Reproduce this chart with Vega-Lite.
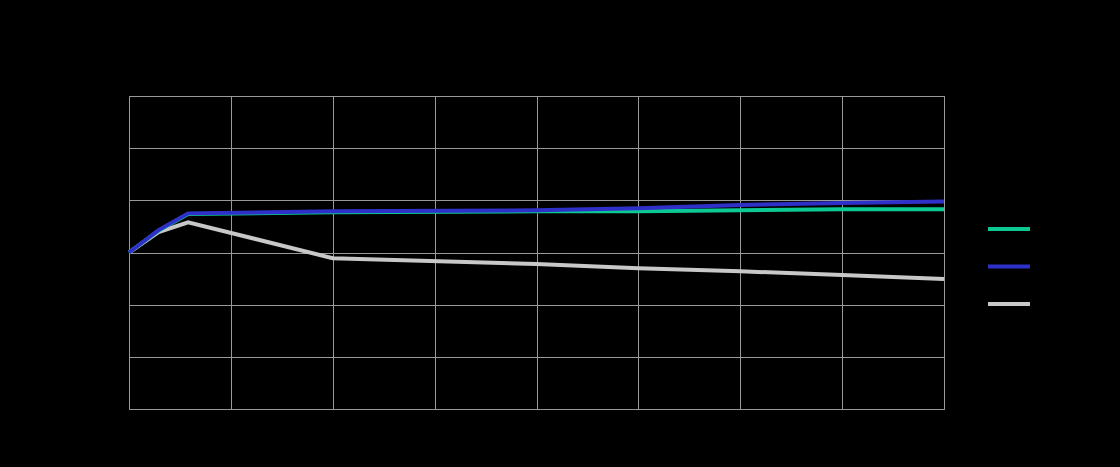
{
  "$schema": "https://vega.github.io/schema/vega-lite/v6.json",
  "width": 815,
  "height": 313,
  "autosize": {"type": "none"},
  "padding": {"left": 129, "top": 96, "right": 176, "bottom": 58},
  "background": "#000000",
  "config": {
    "view": {"stroke": "#999999", "strokeWidth": 1},
    "axis": {"gridColor": "#999999", "gridWidth": 1, "domain": false, "ticks": false, "labels": false, "title": null, "gridOpacity": 1}
  },
  "data": {
    "values": [
      {"x": 0, "y": 100, "s": "c"},
      {"x": 0.29, "y": 103.9, "s": "c"},
      {"x": 0.58, "y": 105.8, "s": "c"},
      {"x": 2, "y": 98.9, "s": "c"},
      {"x": 4, "y": 97.8, "s": "c"},
      {"x": 5, "y": 97.0, "s": "c"},
      {"x": 6, "y": 96.4, "s": "c"},
      {"x": 7, "y": 95.7, "s": "c"},
      {"x": 8, "y": 94.9, "s": "c"},
      {"x": 0, "y": 100, "s": "a"},
      {"x": 0.29, "y": 104.2, "s": "a"},
      {"x": 0.58, "y": 107.4, "s": "a"},
      {"x": 2, "y": 107.7, "s": "a"},
      {"x": 4, "y": 107.9, "s": "a"},
      {"x": 5, "y": 107.9, "s": "a"},
      {"x": 6, "y": 108.1, "s": "a"},
      {"x": 7, "y": 108.3, "s": "a"},
      {"x": 8, "y": 108.3, "s": "a"},
      {"x": 0, "y": 100, "s": "b"},
      {"x": 0.29, "y": 104.3, "s": "b"},
      {"x": 0.58, "y": 107.5, "s": "b"},
      {"x": 2, "y": 107.9, "s": "b"},
      {"x": 4, "y": 108.1, "s": "b"},
      {"x": 5, "y": 108.5, "s": "b"},
      {"x": 6, "y": 109.1, "s": "b"},
      {"x": 7, "y": 109.5, "s": "b"},
      {"x": 8, "y": 109.8, "s": "b"}
    ]
  },
  "mark": {"type": "line", "strokeWidth": 4, "strokeCap": "butt"},
  "encoding": {
    "x": {"field": "x", "type": "quantitative", "scale": {"domain": [0, 8], "nice": false, "zero": false}, "axis": {"values": [0,1,2,3,4,5,6,7,8], "labelOverlap": false, "gridOpacity": 1}},
    "y": {"field": "y", "type": "quantitative", "scale": {"domain": [70, 130], "nice": false, "zero": false}, "axis": {"values": [70,80,90,100,110,120,130]}},
    "color": {
      "field": "s", "type": "nominal",
      "scale": {"domain": ["a", "b", "c"], "range": ["#0cc994", "#2e30c8", "#c8c8c8"]},
      "legend": {
        "orient": "none", "legendX": 857, "legendY": 110,
        "title": null, "symbolType": "stroke", "symbolSize": 1764, "symbolStrokeWidth": 4,
        "labelExpr": "''", "labelFontSize": 1, "rowPadding": 6.5, "symbolOffset": 0, "padding": 0
      }
    },
    "order": {"field": "x", "type": "quantitative"}
  }
}
